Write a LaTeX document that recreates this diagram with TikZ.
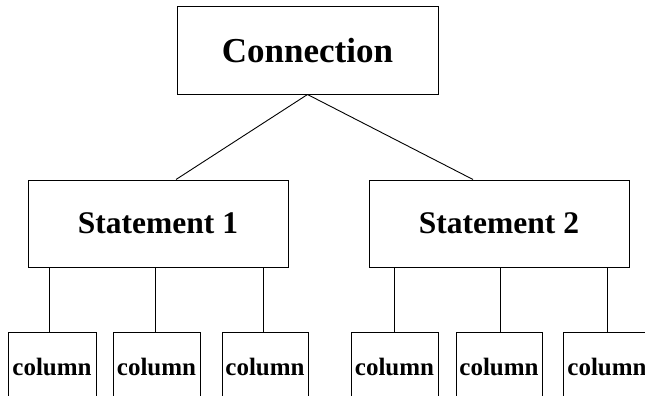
\documentclass[tikz,border=0pt]{standalone}
\usepackage{fontspec}
\setmainfont{Liberation Serif}
\begin{document}
\begin{tikzpicture}[x=1pt,y=-1pt,line width=1pt,
  box/.style={draw,rectangle,inner sep=0pt,font=\bfseries},
  topbox/.style={box,minimum width=261pt,minimum height=87pt,font=\bfseries\fontsize{35}{40}\selectfont},
  stbox/.style={box,minimum width=260pt,minimum height=87pt,font=\bfseries\fontsize{31.5}{36}\selectfont},
  colbox/.style={box,minimum width=87pt,minimum height=70pt,font=\bfseries\fontsize{25}{30}\selectfont},
  link/.style={draw,line width=0.9pt}]
\useasboundingbox (0,0) rectangle (645,396);
\clip (0,0) rectangle (645,396);
\fill[white] (0,0) rectangle (645,396);
\node[topbox] (C) at (307.5,50.5) {Connection};
\node[stbox] (S1) at (158,223.5) {Statement 1};
\node[stbox] (S2) at (499,223.5) {Statement 2};
\node[colbox,minimum width=88pt] (c1) at (52,367) {column};
\node[colbox] (c2) at (156.5,367) {column};
\node[colbox,minimum width=86pt] (c3) at (265,367) {column};
\node[colbox] (c4) at (394.5,367) {column};
\node[colbox,minimum width=86pt] (c5) at (499,367) {column};
\node[colbox,anchor=west] (c6) at (563,367) {column};
\path[link] (C.south) -- ([xshift=18pt]S1.north);
\path[link] (C.south) -- ([xshift=-26pt]S2.north);
\coordinate (k1) at (49,332);
\coordinate (k2) at (155,332);
\coordinate (k3) at (263,332);
\coordinate (k4) at (394,332);
\coordinate (k5) at (500,332);
\coordinate (k6) at (607,332);
\foreach \k in {1,2,3}{\path[link] (k\k) -- (k\k |- S1.south);}
\foreach \k in {4,5,6}{\path[link] (k\k) -- (k\k |- S2.south);}
\end{tikzpicture}
\end{document}
